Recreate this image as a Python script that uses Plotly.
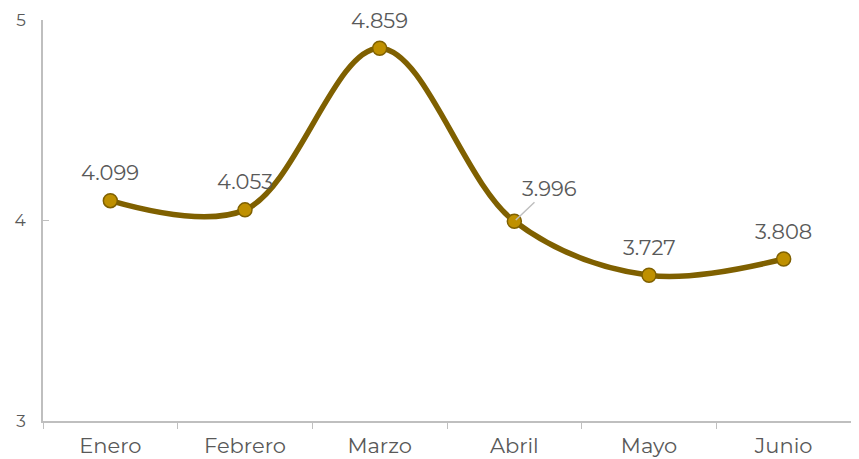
import plotly.graph_objects as go

months = ["Enero", "Febrero", "Marzo", "Abril", "Mayo", "Junio"]
values = [4.099, 4.053, 4.859, 3.996, 3.727, 3.808]
labels = ["4.099", "4.053", "4.859", "3.996", "3.727", "3.808"]
y_ticks = [3, 4, 5]

LINE = "#7F6000"
MARK = "#BF9000"
TXT = "#595959"
AX = "#BFBFBF"
FONT = "Montserrat, 'Open Sans', sans-serif"

fig = go.Figure()
fig.add_trace(go.Scatter(
    x=months, y=values, mode="lines+markers",
    line=dict(color=LINE, width=5.5, shape="spline", smoothing=1.0),
    marker=dict(size=14, color=MARK, line=dict(color=LINE, width=1.5)),
    hoverinfo="skip", showlegend=False, cliponaxis=False,
))

for m, v, t in zip(months, values, labels):
    if m == "Abril":
        fig.add_annotation(x=m, y=v, text=t, showarrow=True, arrowhead=0,
                           arrowcolor=AX, arrowwidth=1.5, ax=35, ay=-33,
                           standoff=2, font=dict(family=FONT, size=21, color=TXT))
    else:
        fig.add_annotation(x=m, y=v, text=t, showarrow=False, yshift=28,
                           font=dict(family=FONT, size=21, color=TXT))

fig.update_layout(
    width=851, height=451,
    margin=dict(l=35, r=8, t=12, b=38),
    plot_bgcolor="white", paper_bgcolor="white",
    font=dict(family=FONT, color=TXT),
    xaxis=dict(range=[-0.5, 5.5], automargin=False, showline=True,
               linecolor=AX, linewidth=1.5, showgrid=False,
               ticks="outside", tickson="boundaries", ticklen=6, tickcolor=AX,
               tickfont=dict(size=21, color=TXT), ticklabelstandoff=5),
    yaxis=dict(range=[3, 5], tickvals=y_ticks, automargin=False, showline=True,
               linecolor=AX, linewidth=1.5, showgrid=False, ticks="inside",
               ticklen=6, tickcolor=AX, tickfont=dict(size=17, color=TXT),
               ticklabelstandoff=12, zeroline=False),
)

fig.write_html("out.html")
